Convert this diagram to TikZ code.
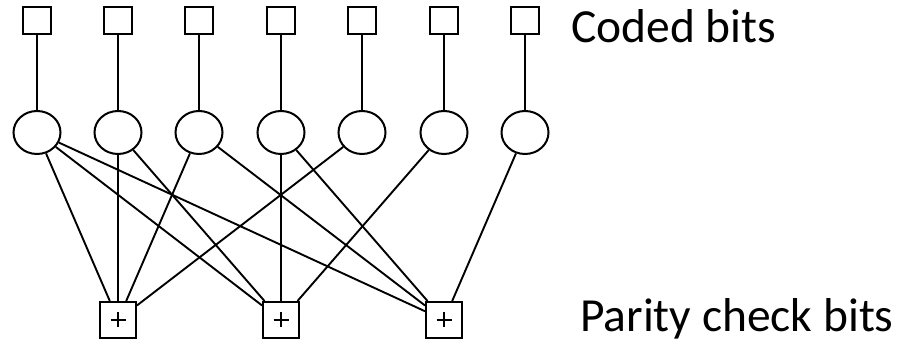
\documentclass[tikz,border=0pt]{standalone}
\usepackage{fontspec}
\setmainfont{Carlito}
\usetikzlibrary{shapes.geometric}
\begin{document}
\begin{tikzpicture}[x=1pt,y=-1pt,
  bitbox/.style={draw,line width=2pt,minimum width=28pt,minimum height=27pt,inner sep=0pt},
  varnode/.style={draw,ellipse,line width=2pt,minimum width=47pt,minimum height=43pt,inner sep=0pt},
  checkbox/.style={draw,line width=2pt,minimum width=36pt,minimum height=36pt,inner sep=0pt},
  plus/.style={line width=2.2pt},
  edge/.style={line width=1.9pt},
  lbl/.style={font=\fontsize{47.5}{50}\selectfont,inner sep=0pt}]
\useasboundingbox (0,0) rectangle (899,344);
\foreach \i/\x in {1/37,2/118,3/199,4/281,5/362,6/444,7/525}{
  \node[bitbox] (b\i) at (\x,20.5) {};
  \node[varnode] (v\i) at (\x,132.5) {};
  \draw[edge] (b\i) -- (v\i);
}
\foreach \i/\x in {1/118,2/281,3/444}{
  \node[checkbox] (p\i) at (\x,320) {};
  \draw[plus] (p\i.center) ++(-7.5,0) -- ++(15,0);
  \draw[plus] (p\i.center) ++(0,-7.5) -- ++(0,15);
}
\foreach \a/\b in {v1/p1,v2/p1,v3/p1,v5/p1,v1/p2,v2/p2,v4/p2,v6/p2,v1/p3,v3/p3,v4/p3,v7/p3}{
  \draw[edge] (\a) -- (\b);
}
\node[lbl,anchor=base west] (cb) at (571,43) {Coded bits};
\node[lbl,anchor=base west] (pb) at (580,331) {Parity check bits};
\end{tikzpicture}
\end{document}
